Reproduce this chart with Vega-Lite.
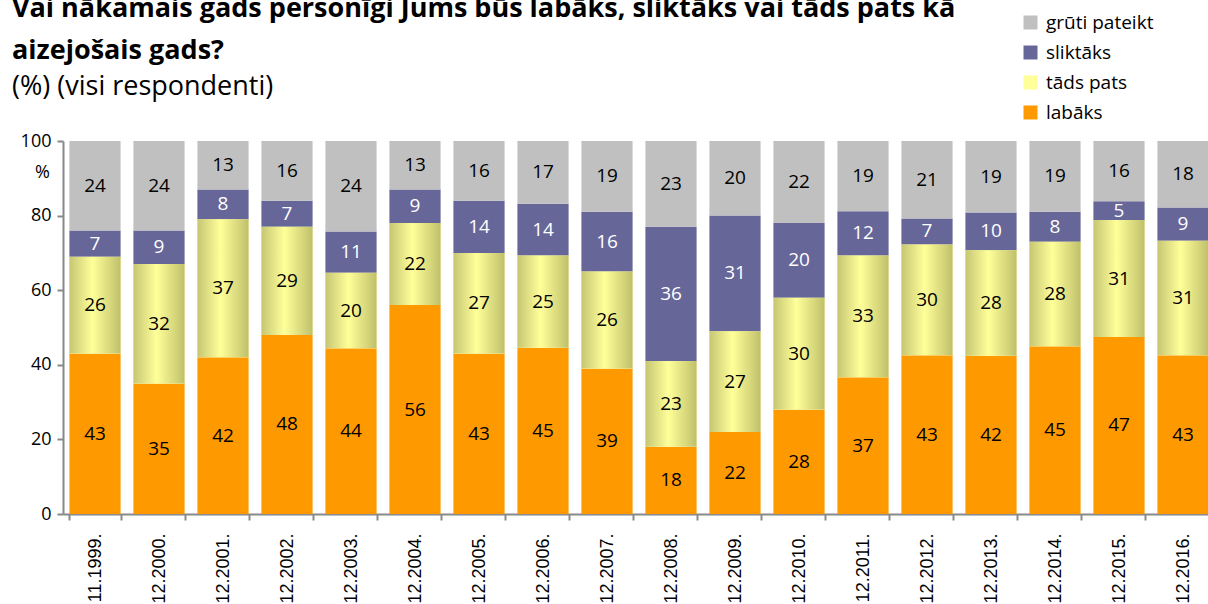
{
  "$schema": "https://vega.github.io/schema/vega-lite/v6.json",
  "width": 1152,
  "height": 373,
  "autosize": {"type": "none"},
  "padding": {"left": 63, "top": 141, "right": 0, "bottom": 90},
  "background": "white",
  "config": {"view": {"stroke": null}, "font": "Open Sans"},
  "title": {
    "text": ["Vai nākamais gads personīgi Jums būs labāks, sliktāks vai tāds pats kā", "aizejošais gads?"],
    "subtitle": "(%) (visi respondenti)",
    "anchor": "start",
    "frame": "group",
    "dx": -51,
    "offset": -88,
    "font": "Open Sans",
    "fontSize": 27,
    "fontWeight": "bold",
    "lineHeight": 42,
    "color": "black",
    "subtitleFont": "Open Sans",
    "subtitleFontSize": 27,
    "subtitleColor": "black",
    "subtitlePadding": 9
  },
  "data": {
    "values": [
      {"g": "11.1999.", "labāks": 43, "tāds pats": 26, "sliktāks": 7, "grūti pateikt": 24},
      {"g": "12.2000.", "labāks": 35, "tāds pats": 32, "sliktāks": 9, "grūti pateikt": 24},
      {"g": "12.2001.", "labāks": 42, "tāds pats": 37, "sliktāks": 8, "grūti pateikt": 13},
      {"g": "12.2002.", "labāks": 48, "tāds pats": 29, "sliktāks": 7, "grūti pateikt": 16},
      {"g": "12.2003.", "labāks": 44, "tāds pats": 20, "sliktāks": 11, "grūti pateikt": 24},
      {"g": "12.2004.", "labāks": 56, "tāds pats": 22, "sliktāks": 9, "grūti pateikt": 13},
      {"g": "12.2005.", "labāks": 43, "tāds pats": 27, "sliktāks": 14, "grūti pateikt": 16},
      {"g": "12.2006.", "labāks": 45, "tāds pats": 25, "sliktāks": 14, "grūti pateikt": 17},
      {"g": "12.2007.", "labāks": 39, "tāds pats": 26, "sliktāks": 16, "grūti pateikt": 19},
      {"g": "12.2008.", "labāks": 18, "tāds pats": 23, "sliktāks": 36, "grūti pateikt": 23},
      {"g": "12.2009.", "labāks": 22, "tāds pats": 27, "sliktāks": 31, "grūti pateikt": 20},
      {"g": "12.2010.", "labāks": 28, "tāds pats": 30, "sliktāks": 20, "grūti pateikt": 22},
      {"g": "12.2011.", "labāks": 37, "tāds pats": 33, "sliktāks": 12, "grūti pateikt": 19},
      {"g": "12.2012.", "labāks": 43, "tāds pats": 30, "sliktāks": 7, "grūti pateikt": 21},
      {"g": "12.2013.", "labāks": 42, "tāds pats": 28, "sliktāks": 10, "grūti pateikt": 19},
      {"g": "12.2014.", "labāks": 45, "tāds pats": 28, "sliktāks": 8, "grūti pateikt": 19},
      {"g": "12.2015.", "labāks": 47, "tāds pats": 31, "sliktāks": 5, "grūti pateikt": 16},
      {"g": "12.2016.", "labāks": 43, "tāds pats": 31, "sliktāks": 9, "grūti pateikt": 18}
    ]
  },
  "transform": [
    {"fold": ["labāks", "tāds pats", "sliktāks", "grūti pateikt"], "as": ["s", "v"]},
    {"calculate": "indexof(['labāks', 'tāds pats', 'sliktāks', 'grūti pateikt'], datum.s)", "as": "ord"},
    {"stack": "v", "groupby": ["g"], "sort": [{"field": "ord", "order": "ascending"}], "offset": "normalize", "as": ["y0", "y1"]},
    {"calculate": "(datum.y0 + datum.y1) / 2", "as": "mid"}
  ],
  "encoding": {
    "x": {
      "field": "g",
      "type": "nominal",
      "sort": null,
      "scale": {"paddingInner": 0.2, "paddingOuter": 0.1},
      "axis": {
        "title": null,
        "labelAngle": -90,
        "labelAlign": "right",
        "labelBaseline": "middle",
        "labelFont": "Liberation Sans",
        "labelFontSize": 18,
        "labelColor": "black",
        "labelPadding": 13,
        "labelBound": false,
        "labelOverlap": false,
        "tickBand": "extent",
        "tickSize": 6,
        "tickColor": "#888888",
        "tickWidth": 2,
        "domainColor": "#888888",
        "domainWidth": 2
      }
    }
  },
  "layer": [
    {
      "mark": {"type": "bar"},
      "encoding": {
        "y": {
          "field": "y0",
          "type": "quantitative",
          "scale": {"domain": [0, 1], "nice": false},
          "axis": {
            "title": "%",
            "titleAngle": 0,
            "titleX": -21,
            "titleY": 31,
            "titleAlign": "center",
            "titleBaseline": "middle",
            "titleFont": "Open Sans",
            "titleFontSize": 18,
            "titleFontWeight": "normal",
            "titleColor": "black",
            "values": [0, 0.2, 0.4, 0.6, 0.8, 1],
            "labelExpr": "format(datum.value * 100, 'd')",
            "labelFont": "Open Sans",
            "labelFontSize": 18,
            "labelColor": "black",
            "labelPadding": 6,
            "tickSize": 6,
            "tickColor": "#888888",
            "tickWidth": 2,
            "domainColor": "#888888",
            "domainWidth": 2,
            "grid": false
          }
        },
        "y2": {"field": "y1"},
        "color": {
          "field": "s",
          "type": "nominal",
          "scale": {
            "domain": ["grūti pateikt", "sliktāks", "tāds pats", "labāks"],
            "range": ["#C0C0C0", "#666699", "#FFFF99", "#FF9900"]
          },
          "legend": {
            "title": null,
            "orient": "none",
            "legendX": 958,
            "legendY": -128,
            "symbolType": "square",
            "symbolSize": 196,
            "symbolStrokeWidth": 0,
            "labelFont": "Open Sans",
            "labelFontSize": 19,
            "labelColor": "black",
            "labelOffset": 6,
            "rowPadding": 10,
            "encode": {
              "symbols": {
                "update": {
                  "fill": [
                    {"test": "datum.value === 'tāds pats'", "value": {"gradient": "linear", "x1": 0, "x2": 1, "y1": 0, "y2": 0, "stops": [{"offset": 0, "color": "#C6C674"}, {"offset": 0.45, "color": "#FFFF99"}, {"offset": 1, "color": "#C0C06C"}]}},
                    {"scale": "color", "field": "value"}
                  ],
                  "opacity": {"value": 1}
                }
              }
            }
          }
        }
      }
    },
    {
      "transform": [{"filter": "datum.s === 'tāds pats'"}],
      "mark": {
        "type": "bar",
        "color": {"gradient": "linear", "x1": 0, "x2": 1, "y1": 0, "y2": 0, "stops": [{"offset": 0, "color": "#C6C674"}, {"offset": 0.45, "color": "#FFFF99"}, {"offset": 1, "color": "#C0C06C"}]}
      },
      "encoding": {
        "y": {"field": "y0", "type": "quantitative"},
        "y2": {"field": "y1"}
      }
    },
    {
      "mark": {"type": "text", "font": "Open Sans", "fontSize": 19, "baseline": "middle", "align": "center"},
      "encoding": {
        "y": {"field": "mid", "type": "quantitative"},
        "text": {"field": "v", "type": "quantitative"},
        "color": {
          "condition": {"test": "datum.s === 'sliktāks'", "value": "white"},
          "value": "black"
        }
      }
    }
  ]
}
